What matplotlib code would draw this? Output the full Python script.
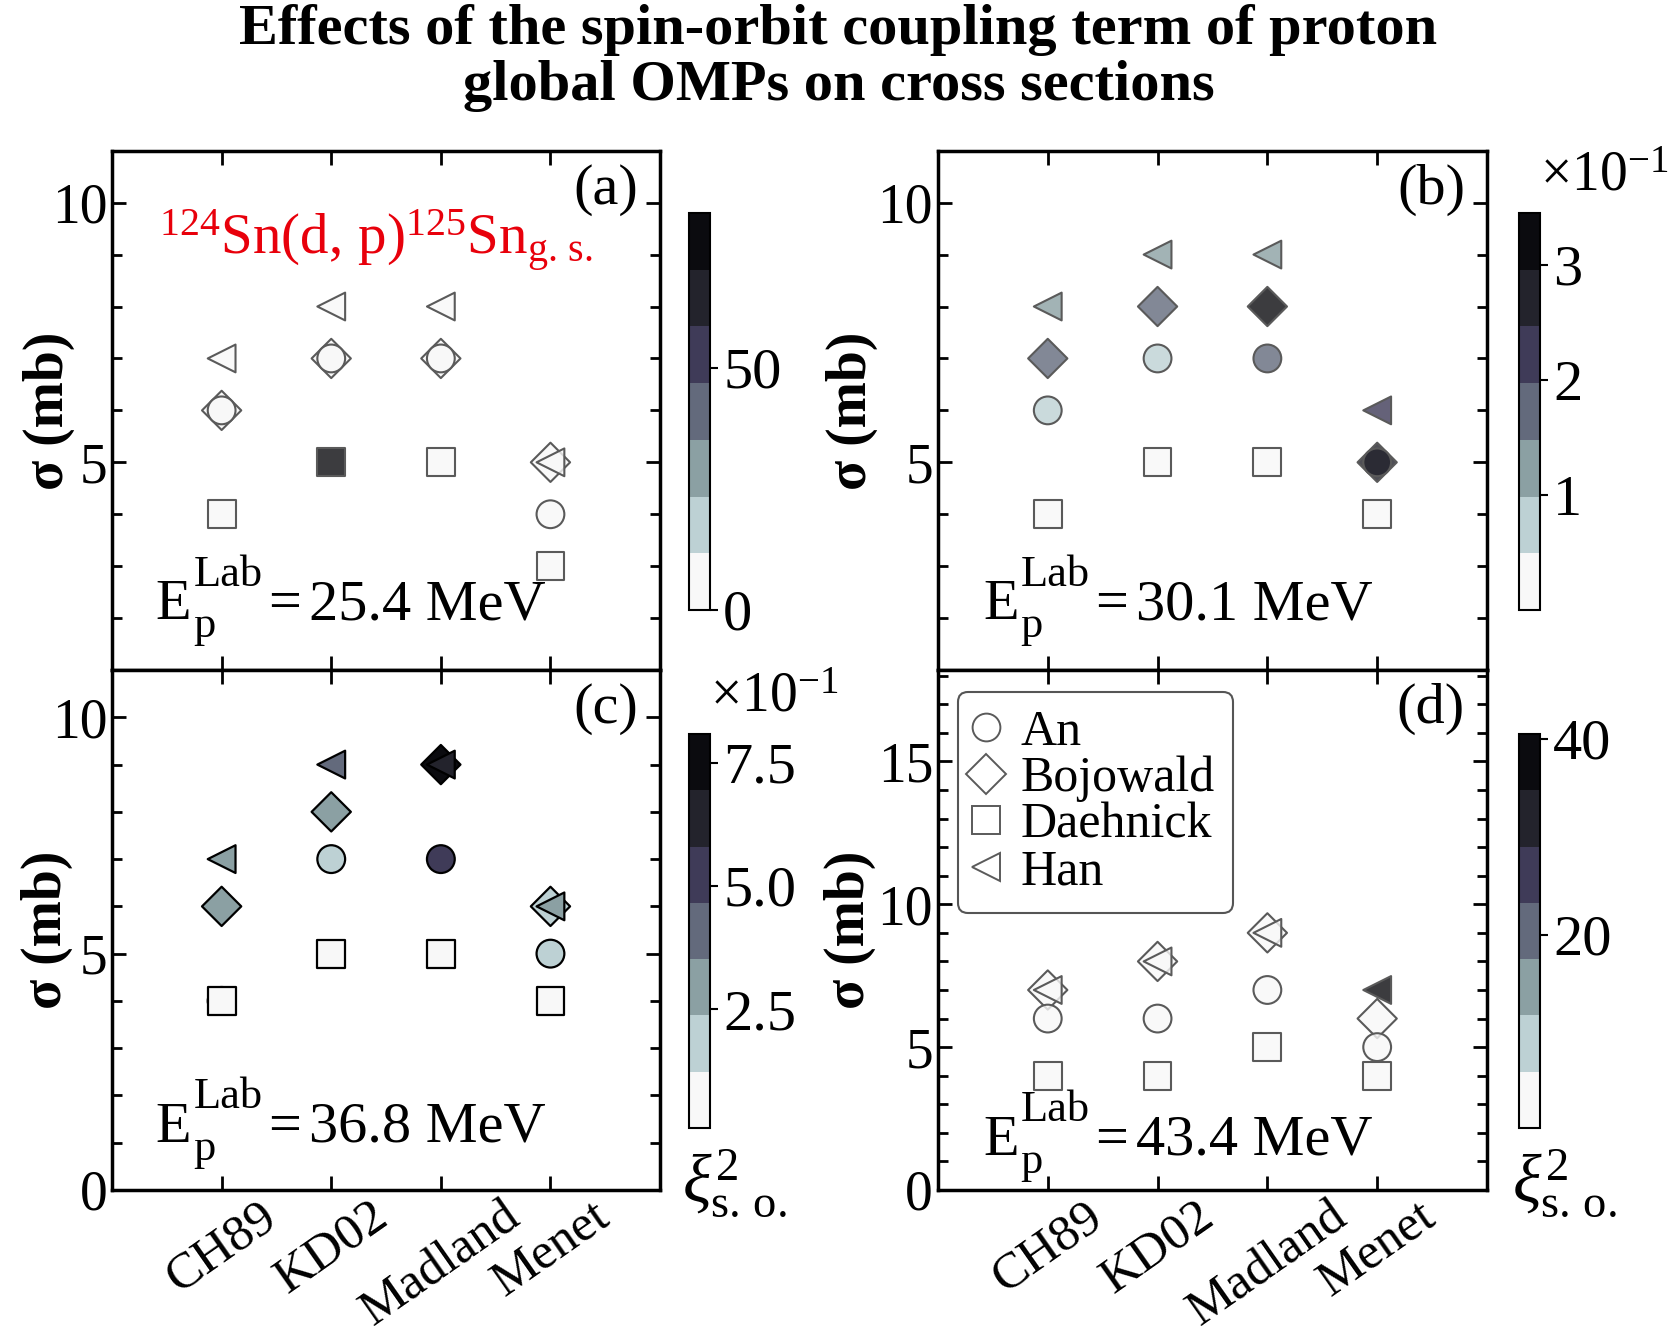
import matplotlib
matplotlib.use('Agg')
import numpy as np
import matplotlib.pyplot as plt
from matplotlib.colors import ListedColormap, BoundaryNorm
from matplotlib.ticker import MultipleLocator, FuncFormatter

plt.rcParams['font.family'] = ['Liberation Serif', 'DejaVu Serif']
plt.rcParams['mathtext.fontset'] = 'custom'
plt.rcParams['mathtext.rm'] = 'Liberation Serif'
plt.rcParams['mathtext.it'] = 'Liberation Serif:italic'
plt.rcParams['mathtext.bf'] = 'Liberation Serif:bold'

# ---- data ----
omps = ['CH89', 'KD02', 'Madland', 'Menet']
deut = ['An', 'Bojowald', 'Daehnick', 'Han']
energies = [25.4, 30.1, 36.8, 43.4]

# cross sections (mb), one row per deuteron potential: An, Bojowald, Daehnick, Han
sig_a = [[6, 7, 7, 4], [6, 7, 7, 5], [4, 5, 5, 3], [7, 8, 8, 5]]
sig_b = [[6, 7, 7, 5], [7, 8, 8, 5], [4, 5, 5, 4], [8, 9, 9, 6]]
sig_c = [[4, 7, 7, 5], [6, 8, 9, 6], [4, 5, 5, 4], [7, 9, 9, 6]]
sig_d = [[6, 6, 7, 5], [7, 8, 9, 6], [4, 4, 5, 4], [7, 8, 9, 7]]

# xi^2_s.o. (colour values)
xi_a = [[1, 1, 1, 1], [1, 1, 1, 1], [1, 80, 1, 1], [1, 1, 1, 1]]
xi_b = [[0.07, 0.06, 0.17, 0.28], [0.17, 0.18, 0.34, 0.27],
        [0.01, 0.01, 0.01, 0.01], [0.12, 0.12, 0.12, 0.22]]
xi_c = [[0.02, 0.18, 0.52, 0.18], [0.29, 0.29, 0.80, 0.18],
        [0.02, 0.02, 0.02, 0.02], [0.29, 0.40, 0.65, 0.29]]
xi_d = [[1, 1, 1, 1], [1, 1, 1, 1], [1, 1, 1, 1], [1, 1, 1, 40]]

# colour-bar ranges
cb_range = [(0, 82), (0.0005, 0.345), (0.009, 0.808), (0.3, 40.5)]
cb_ticks = [[0, 50], [0.1, 0.2, 0.3], [0.25, 0.5, 0.75], [20, 40]]
ylims = [(1, 11), (1, 11), (0, 11), (0, 18.2)]

sigmas = [sig_a, sig_b, sig_c, sig_d]
xis = [xi_a, xi_b, xi_c, xi_d]
labels = ['(a)', '(b)', '(c)', '(d)']

bin_colors = ['#f8f8f8', '#bdd1d4', '#8ba0a3', '#636a7c',
              '#3f3b58', '#23232c', '#0b0b0f']
cmap = ListedColormap(bin_colors)
markers = ['o', 'D', 's', '<']
draw_order = [1, 0, 2, 3]   # diamonds go below the circles

fig = plt.figure(figsize=(16.77, 13.42), dpi=100)

ax_pos = [[0.0668, 0.5007, 0.3268, 0.3870],
          [0.5593, 0.5007, 0.3274, 0.3870],
          [0.0668, 0.1133, 0.3268, 0.3874],
          [0.5593, 0.1133, 0.3274, 0.3874]]
cb_pos = [[0.4109, 0.5455, 0.0125, 0.2958],
          [0.9058, 0.5455, 0.0125, 0.2958],
          [0.4109, 0.1595, 0.0125, 0.2936],
          [0.9058, 0.1595, 0.0125, 0.2936]]
ylab_x = [-0.068, -0.109, -0.072, -0.112]
e_pos = [(0.08, 0.098), (0.082, 0.098), (0.08, 0.093), (0.082, 0.068)]

x = np.arange(len(omps))

for k in range(4):
    ax = fig.add_axes(ax_pos[k])
    vmin, vmax = cb_range[k]
    bounds = np.linspace(vmin, vmax, 8)
    norm = BoundaryNorm(bounds, cmap.N)
    if k == 2:
        alpha, ec, lw = 1.0, 'k', 1.6
    else:
        alpha, ec, lw = 0.8, '#5a5a5a', 1.5
    for j in draw_order:
        fc = cmap(norm(np.array(xis[k][j])))
        fc[:, 3] = alpha
        ax.scatter(x, sigmas[k][j], s=400, marker=markers[j], facecolors=fc,
                   edgecolors=ec, linewidths=lw, zorder=3)
    ax.set_xlim(-1, 4)
    ax.set_ylim(*ylims[k])
    ax.set_xticks(x)
    if k >= 2:
        ax.set_xticklabels(omps, rotation=35)
    else:
        ax.set_xticklabels([])
    ax.yaxis.set_major_locator(MultipleLocator(5))
    ax.yaxis.set_minor_locator(MultipleLocator(1))
    ax.tick_params(axis='both', which='both', direction='in', top=True, right=True,
                   labelsize=40, width=2)
    ax.tick_params(axis='x', pad=2, labelsize=37)
    ax.tick_params(which='major', length=10)
    ax.tick_params(which='minor', length=7)
    for sp in ax.spines.values():
        sp.set_linewidth(2.5)
    ax.set_ylabel('σ (mb)', fontsize=40, fontweight='bold')
    ax.yaxis.set_label_coords(ylab_x[k], 0.5)

    ax.text(0.96, 0.975, labels[k], transform=ax.transAxes, ha='right', va='top',
            fontsize=42)

    # E_p^Lab = ... MeV, built from pieces so the scripts sit like the original
    ex, ey = e_pos[k]
    ax.text(ex, ey, 'E', transform=ax.transAxes, ha='left', va='baseline', fontsize=42)
    ax.annotate('Lab', xy=(ex, ey), xycoords='axes fraction', xytext=(27, 24),
                textcoords='offset points', ha='left', va='baseline', fontsize=32)
    ax.annotate('p', xy=(ex, ey), xycoords='axes fraction', xytext=(27, -13),
                textcoords='offset points', ha='left', va='baseline', fontsize=32)
    ax.annotate('=', xy=(ex, ey), xycoords='axes fraction', xytext=(81, 0),
                textcoords='offset points', ha='left', va='baseline', fontsize=42)
    ax.annotate('%.1f MeV' % energies[k], xy=(ex, ey), xycoords='axes fraction',
                xytext=(110, 0), textcoords='offset points', ha='left',
                va='baseline', fontsize=42)

    if k == 0:
        ax.text(0.086, 0.798,
                r'$^{124}\mathrm{Sn(d,\,p)}^{125}\mathrm{Sn}_\mathrm{g.\,s.}$',
                transform=ax.transAxes, ha='left', va='baseline', fontsize=41,
                color='#e8000b')
    if k == 3:
        hs = []
        for j in range(4):
            hs.append(plt.Line2D([], [], ls='none', marker=markers[j], ms=20,
                                 mfc='none', mec='#5a5a5a', mew=1.4))
        ax.legend(hs, deut, loc='upper left', bbox_to_anchor=(0.037, 0.958),
                  borderaxespad=0, fontsize=36, handlelength=0.4,
                  handletextpad=0.5, labelspacing=0.0, borderpad=0.35,
                  fancybox=True, framealpha=1, edgecolor='#555555')
        ax.get_legend().get_frame().set_linewidth(1.5)

    # colour bar
    cax = fig.add_axes(cb_pos[k])
    sm = plt.cm.ScalarMappable(norm=norm, cmap=cmap)
    cb = fig.colorbar(sm, cax=cax, spacing='proportional')
    cb.set_ticks(cb_ticks[k])
    if k == 1:
        cb.ax.yaxis.set_major_formatter(FuncFormatter(lambda v, p: '%d' % round(v * 10)))
    elif k == 2:
        cb.ax.yaxis.set_major_formatter(FuncFormatter(lambda v, p: '%.1f' % (v * 10)))
    else:
        cb.ax.yaxis.set_major_formatter(FuncFormatter(lambda v, p: '%d' % v))
    cb.ax.tick_params(labelsize=42, length=6, width=1.5, direction='out')
    cb.ax.minorticks_off()
    cb.outline.set_linewidth(1.5)
    if k in (1, 2):
        fig.text(cb_pos[k][0] + 0.0125, cb_pos[k][1] + cb_pos[k][3] + 0.008,
                 r'$\times10^{-1}$', ha='left', va='bottom', fontsize=40)
    if k in (2, 3):
        fig.text(cb_pos[k][0] - 0.004, cb_pos[k][1] - 0.014,
                 r'$\xi^2_\mathrm{s.\,o.}$', ha='left', va='top', fontsize=48)

fig.text(0.5, 0.997, 'Effects of the spin-orbit coupling term of proton\nglobal OMPs on cross sections',
         ha='center', va='top', fontsize=42, fontweight='bold', linespacing=1.1)

fig.savefig('out.png', dpi=100)
